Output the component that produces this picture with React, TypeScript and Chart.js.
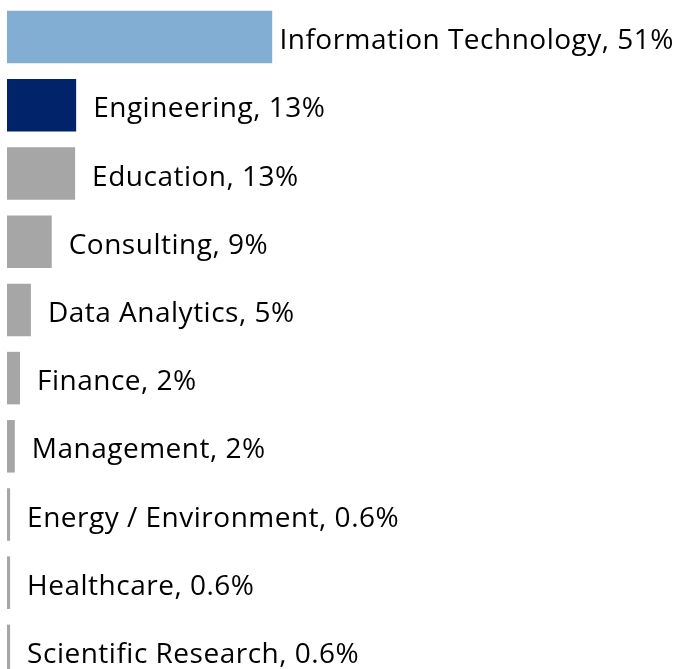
import React, { useEffect, useRef } from "react";
import { Chart, registerables } from "chart.js";

Chart.register(...registerables);

const categories = [
  "Information Technology",
  "Engineering",
  "Education",
  "Consulting",
  "Data Analytics",
  "Finance",
  "Management",
  "Energy / Environment",
  "Healthcare",
  "Scientific Research",
];
const values = [51, 13.3, 13.1, 8.6, 4.6, 2.5, 1.5, 0.6, 0.6, 0.6];
const valueLabels = ["51%", "13%", "13%", "9%", "5%", "2%", "2%", "0.6%", "0.6%", "0.6%"];
const barColors = [
  "#82aed4",
  "#00236a",
  "#a6a6a6",
  "#a6a6a6",
  "#a6a6a6",
  "#a6a6a6",
  "#a6a6a6",
  "#a6a6a6",
  "#a6a6a6",
  "#a6a6a6",
];

const FONT = "28px 'Open Sans'";

const labelPlugin = {
  id: "barLabels",
  afterDatasetsDraw(chart: any) {
    const ctx = chart.ctx;
    const meta = chart.getDatasetMeta(0);
    ctx.save();
    ctx.font = FONT;
    try {
      (ctx as any).letterSpacing = "0.5px";
    } catch (e) {}
    ctx.fillStyle = "#000000";
    ctx.textBaseline = "alphabetic";
    ctx.textAlign = "left";
    meta.data.forEach((bar: any, i: number) => {
      const text = `${categories[i]}, ${valueLabels[i]}`;
      const w = ctx.measureText(text).width;
      let x = bar.x + 17;
      const maxX = chart.width - 4 - w;
      if (x > maxX) x = maxX;
      ctx.fillText(text, x, bar.y + 12);
    });
    ctx.restore();
  },
};

export default function App() {
  const ref = useRef<HTMLCanvasElement>(null);
  useEffect(() => {
    const chart = new Chart(ref.current!, {
      type: "bar",
      data: {
        labels: categories,
        datasets: [
          {
            data: values,
            backgroundColor: barColors,
            borderWidth: 0,
            categoryPercentage: 1,
            barPercentage: 0.77,
          },
        ],
      },
      options: {
        indexAxis: "y",
        animation: false,
        responsive: true,
        maintainAspectRatio: false,
        layout: { padding: { left: 7, right: 151, top: 3, bottom: 5 } },
        plugins: {
          legend: { display: false },
          tooltip: { enabled: false },
        },
        scales: {
          x: { display: false, min: 0, max: 100 },
          y: { display: false },
        },
      },
      plugins: [labelPlugin],
    });
    return () => chart.destroy();
  }, []);
  return (
    <div
      style={{
        position: "fixed",
        left: 0,
        top: 0,
        width: 678,
        height: 669,
        overflow: "hidden",
        background: "#ffffff",
      }}
    >
      <div style={{ position: "relative", width: 678, height: 690 }}>
        <canvas ref={ref} />
      </div>
    </div>
  );
}
